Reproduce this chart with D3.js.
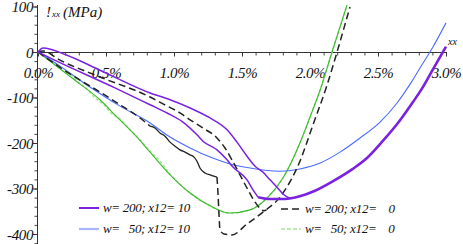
<!DOCTYPE html>
<html>
<head>
<meta charset="utf-8">
<script src="https://cdn.jsdelivr.net/npm/d3@7"></script>
<style>
body { margin: 0; background: #fff; }
svg { display: block; font-family: "Liberation Serif", "DejaVu Serif", serif; font-style: italic; }
text { white-space: pre; }
</style>
</head>
<body>
<div id="plot"></div>
<script>
// [strain (%), stress (MPa)]
var purpleUpper = [[0,0],[0.037,9],[0.213,-7],[0.456,-40],[0.824,-90],[0.971,-105],[1.118,-123],[1.265,-145],[1.39,-171],[1.463,-198],[1.537,-229],[1.596,-251],[1.654,-264],[1.706,-281],[1.757,-297],[1.801,-312],[1.85,-321]];
var purpleLower = [[0,0],[0.088,-13],[0.566,-79],[0.824,-116],[0.949,-134],[1.066,-154],[1.169,-182],[1.213,-196],[1.316,-215],[1.39,-237],[1.434,-253],[1.537,-281],[1.581,-303],[1.618,-319]];
var purpleUnload = [[1.618,-319],[1.706,-323],[1.816,-323],[1.926,-317],[2.037,-305],[2.169,-284],[2.309,-258],[2.419,-233],[2.537,-195],[2.662,-150],[2.757,-110],[2.824,-80],[2.904,-38],[3.0,12]];

var blueLine = [[0,0],[0.162,-31],[0.382,-77],[0.603,-119],[0.824,-156],[0.971,-187],[1.118,-211],[1.265,-231],[1.412,-246],[1.559,-255],[1.779,-262],[1.926,-257],[2.074,-244],[2.221,-220],[2.368,-189],[2.515,-154],[2.64,-112],[2.75,-64],[2.809,-35],[2.904,11],[3.0,64]];

var blackAHead = [[0,0],[0.051,-11],[0.309,-62],[0.456,-88],[0.603,-116],[0.75,-145],[0.824,-163]];
var blackAWiggle = [[0.824,-163],[0.86,-167],[0.897,-178],[0.934,-185],[0.971,-198],[1.007,-207],[1.044,-215],[1.081,-220],[1.118,-226],[1.147,-231],[1.169,-240],[1.191,-255],[1.228,-266],[1.265,-270],[1.294,-273],[1.316,-275]];
var blackADrop = [[1.316,-275],[1.324,-314],[1.331,-358],[1.338,-391],[1.368,-400],[1.426,-402],[1.537,-378],[1.654,-352]];
var blackBHead = [[0,0],[0.037,2],[0.162,-18],[0.456,-55],[0.824,-99],[0.919,-114],[1.044,-134],[1.118,-149],[1.213,-167],[1.316,-189],[1.375,-211],[1.426,-237],[1.485,-270],[1.544,-303],[1.596,-330],[1.662,-349],[1.68,-347]];
var blackReload = [[1.654,-352],[1.779,-319],[1.926,-240],[2.022,-160],[2.125,-73],[2.199,0],[2.25,53],[2.294,99]];

var greenLine = [[0,0],[0.272,-62],[0.456,-105],[0.581,-143],[0.699,-178],[0.824,-220],[0.971,-270],[1.118,-310],[1.265,-338],[1.412,-354],[1.559,-347],[1.684,-321],[1.801,-277],[1.926,-200],[2.0,-143],[2.074,-84],[2.162,0],[2.272,103]];
var lightGreenLine = [[0,0],[0.051,-11],[0.125,-24],[0.176,-40],[0.235,-48],[0.294,-66],[0.36,-81],[0.419,-101],[0.478,-114],[0.544,-136],[0.603,-147],[0.676,-171],[0.75,-193],[0.824,-218],[0.897,-240],[0.971,-268],[1.118,-310],[1.265,-338],[1.412,-354],[1.559,-347],[1.684,-321],[1.801,-277],[1.926,-200],[2.0,-143],[2.074,-84],[2.162,0],[2.272,103]];

var xTicksMajor = [0, 0.5, 1.0, 1.5, 2.0, 2.5, 3.0];
var xTickLabels = ["0.0%", "0.5%", "1.0%", "1.5%", "2.0%", "2.5%", "3.0%"];
var yTicksMajor = [100, 0, -100, -200, -300, -400];
var yTickLabels = ["100", "0", "-100", "-200", "-300", "-400"];

var legendLabels = ["w= 200; x12= 10", "w=   50; x12= 10", "w= 200; x12=    0", "w=   50; x12=    0"];

const width = 463, height = 244;

const svg = d3.select("#plot")
    .append("svg")
    .attr("width", width)
    .attr("height", height);

const x = d3.scaleLinear().domain([0, 3.0]).range([38, 446]);
const y = d3.scaleLinear().domain([-420, 100]).range([243.1, 6.5]);

svg.append("clipPath").attr("id", "clip")
    .append("rect").attr("x", 0).attr("y", 4).attr("width", width).attr("height", height);

// x axis (minor ticks, then labelled major ticks)
svg.append("g")
    .attr("transform", `translate(0, ${y(0)})`)
    .call(d3.axisBottom(x).tickValues(d3.range(0, 31).map(d => d / 10)).tickSize(3.5).tickFormat(""))
    .call(g => g.select(".domain").remove())
    .attr("color", "#444");

const xAxis = svg.append("g")
    .attr("transform", `translate(0, ${y(0)})`)
    .call(d3.axisBottom(x).tickValues(xTicksMajor).tickSize(4.5).tickFormat((d, i) => xTickLabels[i]))
    .attr("color", "#333");
xAxis.select(".domain").attr("d", `M${x(0) - 1},0.5H${x(3.0) + 1}`);
xAxis.selectAll("text")
    .attr("y", 26).attr("dy", null)
    .attr("fill", "#111")
    .style("font-size", "15px")
    .style("font-family", "Liberation Serif")
    .style("letter-spacing", "-0.4px");

// y axis
svg.append("g")
    .attr("transform", `translate(${x(0) - 0.5}, 0)`)
    .call(d3.axisLeft(y).tickValues(d3.range(-420, 101, 20)).tickSize(3).tickFormat(""))
    .call(g => g.select(".domain").remove())
    .attr("color", "#444");

const yAxis = svg.append("g")
    .attr("transform", `translate(${x(0) - 0.5}, 0)`)
    .call(d3.axisLeft(y).tickValues(yTicksMajor).tickSize(4.5).tickFormat((d, i) => yTickLabels[i]))
    .attr("color", "#333");
yAxis.select(".domain").attr("d", `M0,${y(100) - 1.5}V${height}`);
yAxis.selectAll("text")
    .attr("x", -4.5).attr("dy", "0.34em")
    .attr("fill", "#111")
    .style("font-size", "15px")
    .style("font-family", "Liberation Serif")
    .style("letter-spacing", "-0.4px");

// axis titles
const yTitle = svg.append("text").attr("y", 17).attr("fill", "#111");
yTitle.append("tspan").attr("x", 46).style("font-size", "15px").text("!");
yTitle.append("tspan").attr("x", 52).style("font-size", "9px").text("xx");
yTitle.append("tspan").attr("x", 63).style("font-size", "15px").text("(MPa)");

svg.append("text")
    .attr("x", 448).attr("y", 45)
    .attr("fill", "#111")
    .style("font-size", "10px")
    .text("xx");

const line = d3.line()
    .x(d => x(d[0]))
    .y(d => y(d[1]))
    .curve(d3.curveMonotoneX);

const curves = svg.append("g").attr("clip-path", "url(#clip)").attr("fill", "none");

function draw(data, color, w, dash) {
    curves.append("path")
        .attr("d", line(data))
        .attr("stroke", color)
        .attr("stroke-width", w)
        .attr("stroke-dasharray", dash || null)
        .attr("stroke-linejoin", "round");
}

draw(lightGreenLine, "#a6e49a", 1.6, "3,2");
draw(greenLine, "#3dba2c", 1.1);
draw(blueLine, "#4a6cff", 1.1);
draw(blackAHead, "#222", 1.5, "7,4");
draw(blackAWiggle, "#222", 1.3);
draw(blackADrop.concat(blackReload.slice(1)), "#222", 1.5, "7,4");
draw(blackBHead, "#222", 1.5, "7,4");
draw(purpleUpper, "#7a22e0", 1.5);
draw(purpleLower, "#7a22e0", 1.5);
draw(purpleUnload, "#7a22e0", 2.6);

// legend
var legendColors = ["#7a22e0", "#aab6ff", "#222", "#a6e49a"];
var legendWidths = [2, 2.2, 1.6, 1.6];
var legendDash = [null, null, "7,4", "4,2"];
var legendPos = [[79, 208], [79, 229], [281, 209], [281, 229]];

const legend = svg.append("g");
legendLabels.forEach(function(label, i) {
    var p = legendPos[i];
    legend.append("line")
        .attr("x1", p[0]).attr("x2", p[0] + 20)
        .attr("y1", p[1]).attr("y2", p[1])
        .attr("stroke", legendColors[i])
        .attr("stroke-width", legendWidths[i])
        .attr("stroke-dasharray", legendDash[i]);
    legend.append("text")
        .attr("x", p[0] + 24).attr("y", p[1] + 4)
        .attr("fill", "#111")
        .style("font-size", "13px")
        .style("letter-spacing", "-0.3px")
        .text(label);
});
</script>
</body>
</html>
